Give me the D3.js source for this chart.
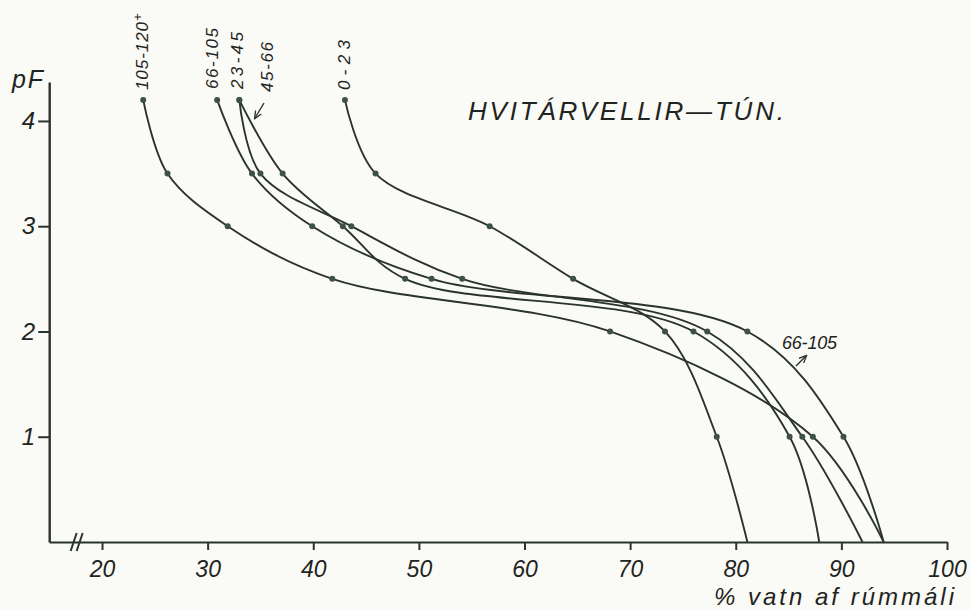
<!DOCTYPE html>
<html><head><meta charset="utf-8">
<script src="https://cdn.jsdelivr.net/npm/d3@7"></script>
<style>
html,body{margin:0;padding:0;background:#fafaf6;}
svg{display:block;}
text{font-family:"Liberation Sans",Arial,sans-serif;font-style:italic;fill:#1f2421;}
</style></head><body>
<svg id="chart" width="971" height="610"></svg>
<script>
// Soil horizons (cm depth) — water retention curves, Hvítárvellir – tún
const horizons = ["0-23", "23-45", "45-66", "66-105", "105-120+"];

// pF levels measured (same for every horizon)
const pfLevels = [4.2, 3.5, 3.0, 2.5, 2.0, 1.0, 0.0];

// % water by volume at each pF level
const water_0_23    = [43.0, 45.9, 56.7, 64.6, 73.3, 78.2, 81.1];
const water_23_45   = [33.0, 35.0, 43.6, 54.1, 77.3, 86.3, 92.0];
const water_45_66   = [33.0, 37.1, 42.8, 48.7, 76.0, 85.1, 87.9];
const water_66_105  = [30.9, 34.2, 39.9, 51.2, 81.1, 90.2, 94.0];
const water_105_120 = [23.9, 26.2, 31.9, 41.8, 68.1, 87.3, 94.0];

const xTicks = [20, 30, 40, 50, 60, 70, 80, 90, 100];
const yTicks = [1, 2, 3, 4];

const title = "HVITÁRVELLIR—TÚN.";
const xTitle = "% vatn af rúmmáli";
const yTitle = "pF";

const seriesValues = [water_0_23, water_23_45, water_45_66, water_66_105, water_105_120];

const svg = d3.select("#chart");
const ink = "#2a332e";

const x = d3.scaleLinear().domain([15, 100]).range([49.2, 947]);
const y = d3.scaleLinear().domain([0, 4.37]).range([542, 82]);

// axes
const xAxis = d3.axisBottom(x).tickValues(xTicks).tickFormat(d3.format("d"))
  .tickSize(8).tickSizeOuter(0).tickPadding(11);
const gx = svg.append("g").attr("transform", `translate(0,${y(0)})`).call(xAxis);
gx.select(".domain").attr("stroke", ink).attr("stroke-width", 2.2);
gx.selectAll(".tick line").attr("stroke", ink).attr("stroke-width", 2);
gx.selectAll(".tick text").attr("font-size", 23).attr("font-family", null).attr("fill", "#1f2421");

const yAxis = d3.axisLeft(y).tickValues(yTicks).tickFormat(d3.format("d"))
  .tickSize(11).tickSizeOuter(0).tickPadding(3);
const gy = svg.append("g").attr("transform", `translate(${x(15)},0)`).call(yAxis);
gy.select(".domain").attr("stroke", ink).attr("stroke-width", 2.4);
gy.selectAll(".tick line").attr("stroke", ink).attr("stroke-width", 2);
gy.selectAll(".tick text").attr("font-size", 24).attr("font-family", null).attr("fill", "#1f2421");

// axis break mark
const bx = x(17.6);
[-3, 3].forEach(o => {
  svg.append("line")
    .attr("x1", bx + o - 3).attr("y1", y(0) + 9)
    .attr("x2", bx + o + 3).attr("y2", y(0) - 9)
    .attr("stroke", ink).attr("stroke-width", 2);
});

// curves
const line = d3.line()
  .x(d => x(d.w)).y(d => y(d.pf))
  .curve(d3.curveCatmullRom.alpha(0.5));

seriesValues.forEach((vals, i) => {
  const pts = vals.map((w, j) => ({ w, pf: pfLevels[j] }));
  svg.append("path").datum(pts)
    .attr("d", line).attr("fill", "none")
    .attr("stroke", ink).attr("stroke-width", 1.9)
    .attr("stroke-linejoin", "round");
  svg.append("g").selectAll("circle")
    .data(pts.filter(d => d.pf > 0))
    .join("circle")
    .attr("cx", d => x(d.w)).attr("cy", d => y(d.pf))
    .attr("r", 3).attr("fill", "#3d5145");
});

// rotated horizon labels at the top of each curve
const topLabels = [
  { t: "0-23",     cx: 344, bottom: 90, len: 50 },
  { t: "23-45",    cx: 237, bottom: 89, len: 57 },
  { t: "45-66",    cx: 267, bottom: 92, len: 50 },
  { t: "66-105",   cx: 212, bottom: 89, len: 61 },
  { t: "105-120",  cx: 142, bottom: 90, len: 68, sup: "+" }
];
topLabels.forEach(l => {
  const t = svg.append("text")
    .attr("transform", `translate(${l.cx + 6},${l.bottom}) rotate(-90)`)
    .attr("font-size", 17);
  t.append("tspan").text(l.t).attr("textLength", l.len).attr("lengthAdjust", "spacing");
  if (l.sup) t.append("tspan").text(l.sup).attr("dy", -6).attr("font-size", 13);
});

// arrowheads
svg.append("defs").append("marker")
  .attr("id", "ah").attr("viewBox", "0 0 10 10").attr("refX", 8).attr("refY", 5)
  .attr("markerWidth", 6).attr("markerHeight", 6).attr("orient", "auto")
  .append("path").attr("d", "M0,1 L9,5 L0,9").attr("fill", "none")
  .attr("stroke", ink).attr("stroke-width", 1.6);

svg.append("line").attr("x1", 264).attr("y1", 103).attr("x2", 255).attr("y2", 118)
  .attr("stroke", ink).attr("stroke-width", 1.4).attr("marker-end", "url(#ah)");
svg.append("line").attr("x1", 796).attr("y1", 366).attr("x2", 806).attr("y2", 356)
  .attr("stroke", ink).attr("stroke-width", 1.4).attr("marker-end", "url(#ah)");

// side label for 66-105
svg.append("text").attr("x", 782).attr("y", 349).attr("font-size", 18)
  .attr("textLength", 55).attr("lengthAdjust", "spacing").text("66-105");

// title
svg.append("text").attr("x", 468).attr("y", 120).attr("font-size", 26)
  .attr("textLength", 316).attr("lengthAdjust", "spacing").text(title);

// axis titles
svg.append("text").attr("x", 714).attr("y", 605).attr("font-size", 24)
  .attr("textLength", 240).attr("lengthAdjust", "spacing").text(xTitle);
svg.append("text").attr("x", 12).attr("y", 88).attr("font-size", 25)
  .attr("textLength", 31).attr("lengthAdjust", "spacing").text(yTitle);
</script>
</body></html>
